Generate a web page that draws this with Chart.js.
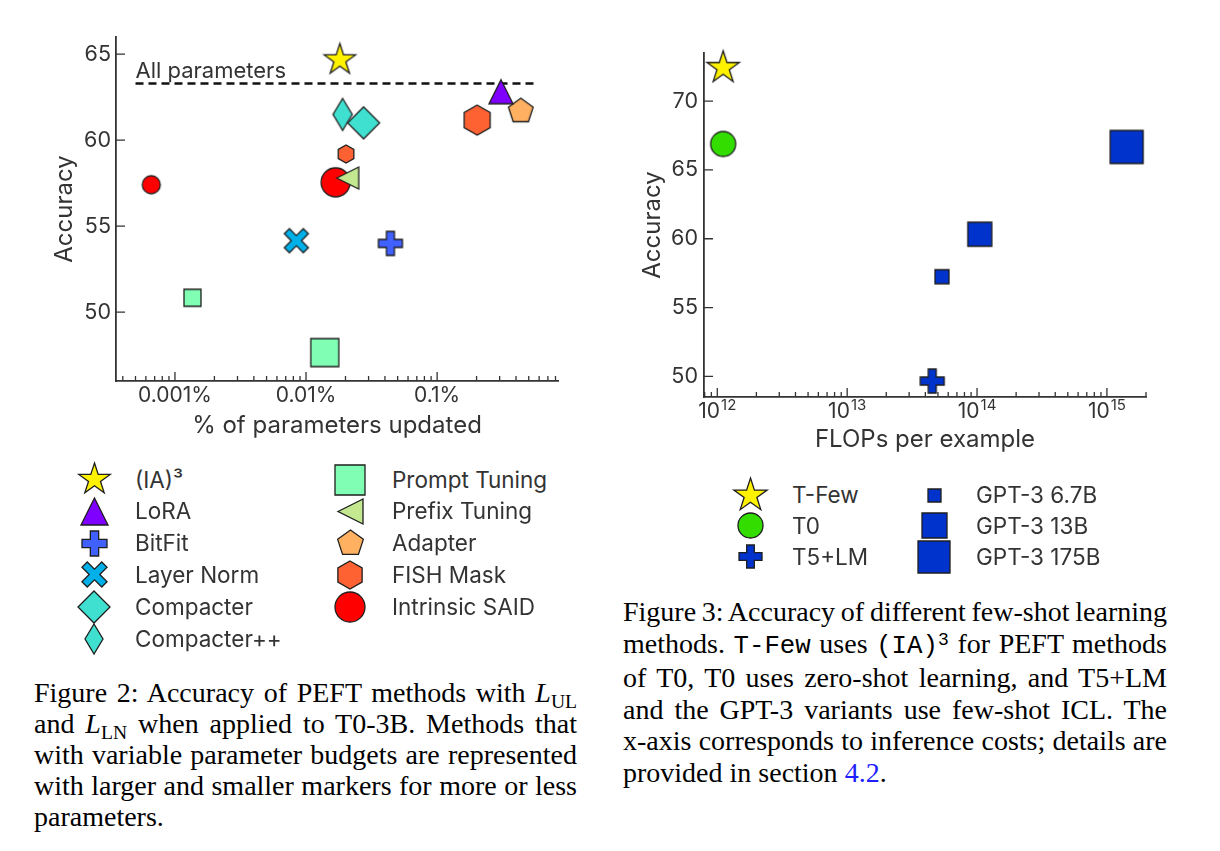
<!DOCTYPE html>
<html>
<head>
<meta charset="utf-8">
<script src="https://cdn.jsdelivr.net/npm/chart.js@4.4.1/dist/chart.umd.min.js"></script>
<style>
body{margin:0;background:#fff;}
#page{position:relative;width:1220px;height:851px;overflow:hidden;background:#fff;}
canvas.plot{position:absolute;top:0;}
.lgText{position:absolute;font-family:Inter,sans-serif;font-size:22.5px;color:#333;white-space:nowrap;line-height:26px;}
.lgMark{position:absolute;}
.cap{position:absolute;font-family:"Liberation Serif","Times New Roman",serif;font-size:28px;word-spacing:-3px;color:#000;}
.cap div{text-align:justify;text-align-last:justify;}
.cap div.last{text-align-last:left;word-spacing:0;}
.mono{font-family:"Liberation Mono","DejaVu Sans Mono",monospace;font-size:0.92em;}
.sub{font-size:0.7em;vertical-align:-0.3em;line-height:0;}
.sup{font-size:0.7em;vertical-align:0.45em;line-height:0;}
</style>
</head>
<body>
<div id="page">
<canvas id="peftChart" class="plot" width="600" height="450" style="left:0;width:600px;height:450px"></canvas>
<canvas id="fewShotChart" class="plot" width="620" height="470" style="left:600px;width:620px;height:470px"></canvas>
<div id="legends"></div>

<div class="cap" style="left:34px;top:677px;width:543px;line-height:31px">
<div>Figure 2: Accuracy of PEFT methods with <i>L</i><span class="sub">UL</span></div>
<div>and <i>L</i><span class="sub">LN</span> when applied to T0-3B. Methods that</div>
<div>with variable parameter budgets are represented</div>
<div>with larger and smaller markers for more or less</div>
<div class="last">parameters.</div>
</div>

<div class="cap" style="left:623px;top:596px;width:544px;line-height:31.6px">
<div>Figure 3: Accuracy of different few-shot learning</div>
<div>methods. <span class="mono">T-Few</span> uses <span class="mono">(IA)<span class="sup">3</span></span> for PEFT methods</div>
<div>of T0, T0 uses zero-shot learning, and T5+LM</div>
<div>and the GPT-3 variants use few-shot ICL. The</div>
<div>x-axis corresponds to inference costs; details are</div>
<div class="last">provided in section <span style="color:#2020ff">4.2</span>.</div>
</div>
</div>

<script>
// figure 2 data (x in % of parameters)
const peftMethods=["(IA)³","LoRA","BitFit","Layer Norm","Compacter","Compacter++","Prompt Tuning","Prefix Tuning","Adapter","FISH Mask","Intrinsic SAID"];
const peftParamsPct=[[0.0181],[0.307],[0.044],[0.00843],[0.0275],[0.019],[0.00136,0.0139],[0.0208],[0.435],[0.0202,0.202],[0.00066,0.0168]];
const peftAccuracy=[[64.67],[62.82],[54.0],[54.16],[61.01],[61.5],[50.84,47.65],[57.8],[61.69],[59.2,61.17],[57.41,57.55]];
const allParamsLabel="All parameters";
const allParamsAccuracy=63.3;
const allParamsSpan=[0.0005,0.56];
const peftTicks=[0.001,0.01,0.1];
const peftTickLabels=["0.001%","0.01%","0.1%"];
const peftAccuracyTicks=[50,55,60,65];

// figure 3 data
const fewShotMethods=["T-Few","T0","T5+LM","GPT-3 6.7B","GPT-3 13B","GPT-3 175B"];
const fewShotFlops=[1.11e12,1.11e12,4.52e13,5.37e13,1.05e14,1.42e15];
const fewShotAccuracy=[72.43,66.89,49.66,57.24,60.33,66.67];
const flopsTicks=[1e12,1e13,1e14,1e15];
const flopsExponents=["12","13","14","15"];
const fewShotAccuracyTicks=[50,55,60,65,70];

const peftStyle=[
    {shape:"star",fill:"#fff200",size:[33],legend:33},
    {shape:"triUp",fill:"#7f00ff",size:[24],legend:27},
    {shape:"plus",fill:"#4060ff",size:[24],legend:25},
    {shape:"cross",fill:"#00b0e8",size:[24],legend:25},
    {shape:"diamond",fill:"#40e0d0",size:[32],legend:32},
    {shape:"thinDiamond",fill:"#40e0d0",size:[32],legend:30},
    {shape:"square",fill:"#80ffb4",size:[17,28],legend:30},
    {shape:"triLeft",fill:"#c4e890",size:[22],legend:25},
    {shape:"pentagon",fill:"#ffb060",size:[26],legend:27},
    {shape:"hexagon",fill:"#ff6232",size:[18,30],legend:28},
    {shape:"circle",fill:"#ff0000",size:[18,29],legend:30}
];
const fewShotStyle=[
    {shape:"star",fill:"#fff200",size:34,legend:35},
    {shape:"circle",fill:"#33dd00",size:25,legend:25},
    {shape:"plus",fill:"#0033cc",size:24,legend:23},
    {shape:"square",fill:"#0033cc",size:14,legend:13},
    {shape:"square",fill:"#0033cc",size:24,legend:25},
    {shape:"square",fill:"#0033cc",size:33,legend:32}
];

function polyPoints(n,r,innerRatio){
    let pts=[];
    let count=innerRatio?n*2:n;
    for(let i=0;i<count;i++){
        let a=-Math.PI/2+i*Math.PI*2/count;
        let rr=(innerRatio&&i%2)?r*innerRatio:r;
        pts.push([rr*Math.cos(a),rr*Math.sin(a)]);
    }
    return pts;
}

function plusPoints(l,t){
    return [[-t,-l],[t,-l],[t,-t],[l,-t],[l,t],[t,t],[t,l],[-t,l],[-t,t],[-l,t],[-l,-t],[-t,-t]];
}

function shapePath(shape,s){
    let r=s/2;
    switch(shape){
        case "star": return polyPoints(5,r,0.382);
        case "pentagon": return polyPoints(5,r);
        case "hexagon": return polyPoints(6,r);
        case "triUp": return [[0,-r],[r,r],[-r,r]];
        case "triLeft": return [[-r,0],[r,-r],[r,r]];
        case "diamond": return [[0,-r],[r,0],[0,r],[-r,0]];
        case "thinDiamond": return [[0,-r],[r*0.6,0],[0,r],[-r*0.6,0]];
        case "plus": return plusPoints(r,r/3);
        case "cross": return plusPoints(r*1.12,r*0.3).map(p=>[(p[0]-p[1])*Math.SQRT1_2,(p[0]+p[1])*Math.SQRT1_2]);
        case "square": return [[-r,-r],[r,-r],[r,r],[-r,r]];
    }
}

function marker(shape,s,fill){
    let c=document.createElement("canvas");
    c.width=Math.ceil(s)+8;
    c.height=Math.ceil(s)+8;
    let g=c.getContext("2d");
    g.translate(c.width/2,c.height/2);
    g.beginPath();
    if(shape=="circle"){
        g.arc(0,0,s/2,0,Math.PI*2);
    }else{
        shapePath(shape,s).forEach((p,i)=>i?g.lineTo(p[0],p[1]):g.moveTo(p[0],p[1]));
        g.closePath();
    }
    g.fillStyle=fill;
    g.fill();
    g.lineWidth=1.3;
    g.strokeStyle="#1e1e1e";
    g.stroke();
    return c;
}

const axisTicks={
    id:"axisTicks",
    beforeDatasetsDraw(chart){
        let ctx=chart.ctx, a=chart.chartArea, xs=chart.scales.x, ys=chart.scales.y;
        ctx.save();
        ctx.strokeStyle="#333";
        ctx.lineWidth=1.3;
        ctx.beginPath();
        xs.ticks.forEach(t=>{
            let p=xs.getPixelForValue(t.value);
            ctx.moveTo(p,a.bottom);
            ctx.lineTo(p,a.bottom-9);
        });
        for(let e=Math.floor(Math.log10(xs.min));e<=Math.ceil(Math.log10(xs.max));e++){
            for(let m=2;m<10;m++){
                let v=m*Math.pow(10,e);
                if(v<xs.min||v>xs.max*1.0001) continue;
                let p=xs.getPixelForValue(v);
                ctx.moveTo(p,a.bottom);
                ctx.lineTo(p,a.bottom-5);
            }
        }
        ys.ticks.forEach(t=>{
            let p=ys.getPixelForValue(t.value);
            ctx.moveTo(a.left,p);
            ctx.lineTo(a.left+9,p);
        });
        ctx.stroke();
        ctx.restore();
    }
};

const allParamsNote={
    id:"allParamsNote",
    afterDatasetsDraw(chart){
        let ctx=chart.ctx, xs=chart.scales.x, ys=chart.scales.y;
        ctx.save();
        ctx.fillStyle="#333";
        ctx.font="22px Inter";
        ctx.textAlign="left";
        ctx.textBaseline="alphabetic";
        ctx.fillText(allParamsLabel,xs.getPixelForValue(allParamsSpan[0]),ys.getPixelForValue(allParamsAccuracy)-5.5);
        ctx.restore();
    }
};

const flopsLabels={
    id:"flopsLabels",
    afterDraw(chart){
        let ctx=chart.ctx, a=chart.chartArea, xs=chart.scales.x;
        ctx.save();
        ctx.fillStyle="#333";
        ctx.textAlign="left";
        ctx.textBaseline="middle";
        flopsTicks.forEach((v,i)=>{
            let p=xs.getPixelForValue(v);
            ctx.font="21px Inter";
            let w1=ctx.measureText("10").width;
            ctx.font="15px Inter";
            let w2=ctx.measureText(flopsExponents[i]).width;
            let x0=p-(w1+w2+1)/2;
            ctx.font="21px Inter";
            ctx.fillText("10",x0,a.bottom+15);
            ctx.font="15px Inter";
            ctx.fillText(flopsExponents[i],x0+w1+1,a.bottom+8.5);
        });
        ctx.restore();
    }
};

function axisY(min,max,ticks,width,pad,titlePad){
    return {
        min:min,
        max:max,
        afterBuildTicks:s=>{s.ticks=ticks.map(v=>({value:v}));},
        afterFit:s=>{s.width=width;},
        grid:{drawOnChartArea:false,drawTicks:false},
        border:{color:"#333",width:1.8},
        ticks:{color:"#333",font:{family:"Inter",size:21.5},padding:pad},
        title:{display:true,text:"Accuracy",color:"#333",font:{family:"Inter",size:24},padding:{top:titlePad,bottom:0}}
    };
}

let peftDatasets=peftMethods.map((name,i)=>({
    label:name,
    data:peftParamsPct[i].map((x,j)=>({x:x,y:peftAccuracy[i][j]})),
    pointStyle:peftStyle[i].size.map(s=>marker(peftStyle[i].shape,s,peftStyle[i].fill)),
    pointRadius:10,
    showLine:false,
    clip:false
}));
peftDatasets.push({
    label:allParamsLabel,
    data:allParamsSpan.map(x=>({x:x,y:allParamsAccuracy})),
    showLine:true,
    borderColor:"#111",
    borderWidth:2.4,
    borderDash:[8,5],
    pointRadius:0,
    clip:false
});

new Chart(document.getElementById("peftChart"),{
    type:"scatter",
    data:{datasets:peftDatasets},
    options:{
        responsive:false,
        animation:false,
        events:[],
        layout:{padding:{top:37,right:42,bottom:0,left:0}},
        plugins:{legend:{display:false},tooltip:{enabled:false}},
        scales:{
            x:{
                type:"logarithmic",
                min:0.000355,
                max:0.836,
                afterBuildTicks:s=>{s.ticks=peftTicks.map(v=>({value:v}));},
                afterFit:s=>{s.height=69;},
                grid:{drawOnChartArea:false,drawTicks:false},
                border:{color:"#333",width:1.8},
                ticks:{
                    color:"#333",
                    font:{family:"Inter",size:21},
                    padding:2,
                    maxRotation:0,
                    autoSkip:false,
                    callback:v=>peftTickLabels[peftTicks.indexOf(v)]
                },
                title:{display:true,text:"% of parameters updated",color:"#333",font:{family:"Inter",size:24},padding:{top:0,bottom:10}}
            },
            y:axisY(46,66,peftAccuracyTicks,116,5,50)
        }
    },
    plugins:[axisTicks,allParamsNote]
});

new Chart(document.getElementById("fewShotChart"),{
    type:"scatter",
    data:{
        datasets:fewShotMethods.map((name,i)=>({
            label:name,
            data:[{x:fewShotFlops[i],y:fewShotAccuracy[i]}],
            pointStyle:marker(fewShotStyle[i].shape,fewShotStyle[i].size,fewShotStyle[i].fill),
            pointRadius:10,
            showLine:false,
            clip:false
        }))
    },
    options:{
        responsive:false,
        animation:false,
        events:[],
        layout:{padding:{top:53,right:74,bottom:0,left:0}},
        plugins:{legend:{display:false},tooltip:{enabled:false}},
        scales:{
            x:{
                type:"logarithmic",
                min:7.9e11,
                max:2e15,
                afterBuildTicks:s=>{s.ticks=flopsTicks.map(v=>({value:v}));},
                afterFit:s=>{s.height=73;},
                grid:{drawOnChartArea:false,drawTicks:false},
                border:{color:"#333",width:1.8},
                ticks:{display:false},
                title:{display:true,text:"FLOPs per example",color:"#333",font:{family:"Inter",size:24},padding:{top:0,bottom:15.5}}
            },
            y:axisY(48.5,73.5,fewShotAccuracyTicks,104,6,38)
        }
    },
    plugins:[axisTicks,flopsLabels]
});

function buildLegend(names,styles,markX,textX,rowTop,rowGap,perCol){
    let holder=document.getElementById("legends");
    names.forEach((name,i)=>{
        let col=Math.floor(i/perCol), row=i%perCol;
        let cy=rowTop+row*rowGap;
        let c=marker(styles[i].shape,styles[i].legend,styles[i].fill);
        c.className="lgMark";
        c.style.left=(markX[col]-c.width/2)+"px";
        c.style.top=(cy-c.height/2)+"px";
        holder.appendChild(c);
        let t=document.createElement("div");
        t.className="lgText";
        t.textContent=name;
        t.style.left=textX[col]+"px";
        t.style.top=(cy-13)+"px";
        holder.appendChild(t);
    });
}

buildLegend(peftMethods,peftStyle,[94,350],[135,392],479.5,31.8,6);
buildLegend(fewShotMethods,fewShotStyle,[750,934],[792,976],495,30.8,3);
</script>
</body>
</html>
